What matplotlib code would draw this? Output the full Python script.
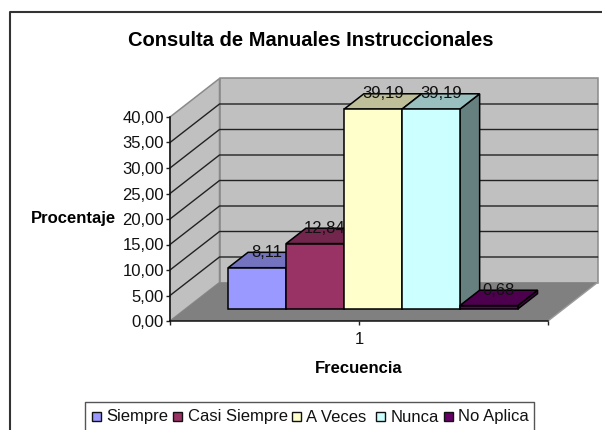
import matplotlib
matplotlib.use("Agg")
import matplotlib.pyplot as plt
from matplotlib.patches import Polygon, Rectangle
from matplotlib.lines import Line2D

plt.rcParams['font.family'] = ['Liberation Sans', 'DejaVu Sans']

title = "Consulta de Manuales Instruccionales"
series_names = ["Siempre", "Casi Siempre", "A Veces", "Nunca", "No Aplica"]
series_values = [8.11, 12.84, 39.19, 39.19, 0.68]
series_labels = ["8,11", "12,84", "39,19", "39,19", "0,68"]
colors = ["#9999FF", "#993366", "#FFFFCC", "#CCFFFF", "#660066"]
top_colors = ["#7373BF", "#73264D", "#BFBF99", "#99BFBF", "#4D004D"]
side_colors = ["#66668F", "#66223F", "#A8A888", "#668080", "#440044"]
y_ticks = [0, 5, 10, 15, 20, 25, 30, 35, 40]

W, H = 602, 430
fig = plt.figure(figsize=(W / 100, H / 100), dpi=100, facecolor="white")

# axes = front plane of the 3-D box
L, R, B, T = 170.0, 548.0, 321.0, 117.0
ax = fig.add_axes([L / W, 1 - B / H, (R - L) / W, (B - T) / H])
ax.set_xlim(0.5, 1.5)
ax.set_ylim(0, 40)
ax.patch.set_visible(False)
for s in ("top", "right"):
    ax.spines[s].set_visible(False)
for s in ("left", "bottom"):
    ax.spines[s].set_linewidth(1.1)
    ax.spines[s].set_color("#111111")
    ax.spines[s].set_zorder(6)

# shear for depth (fraction 0..1 of the box depth)
DX = 49.5 / (R - L)
DY = 38.5 / ((B - T) / 40)


def P(x, y, d):
    return (x + DX * d, y + DY * d)


def poly(pts, fc, ec="none", lw=0.0, z=1):
    ax.add_patch(Polygon(pts, closed=True, fc=fc, ec=ec, lw=lw, zorder=z,
                         clip_on=False, joinstyle="miter"))


x0, x1 = 0.5, 1.5
top = y_ticks[-1]
# walls and floor
poly([P(x0, 0, 1), P(x1, 0, 1), P(x1, top, 1), P(x0, top, 1)], "#C0C0C0", "#8A8A8A", 1.1, 1)
poly([P(x0, 0, 0), P(x0, 0, 1), P(x0, top, 1), P(x0, top, 0)], "#C0C0C0", "#8A8A8A", 1.1, 1)
poly([P(x0, 0, 0), P(x1, 0, 0), P(x1, 0, 1), P(x0, 0, 1)], "#808080", "none", 0, 2)
ax.plot(*zip(P(x1, 0, 0), P(x1, 0, 1)), color="#9A9A9A", lw=1.0, zorder=2, clip_on=False)

# gridlines
for v in y_ticks[1:-1]:
    ax.plot(*zip(P(x0, v, 0), P(x0, v, 1), P(x1, v, 1)), color="#222222", lw=1.0,
            zorder=3, clip_on=False, solid_joinstyle="miter")

# bars
d0, d1 = 0.31, 0.71
bar_left = 0.5 + (212.9 - L) / (R - L)
bar_w = 57.9 / (R - L)
for i, (v, lab) in enumerate(zip(series_values, series_labels)):
    a = bar_left + i * bar_w
    b = a + bar_w
    z = 10 + i
    ec, lw = "#000000", 1.1
    poly([P(b, 0, d0), P(b, 0, d1), P(b, v, d1), P(b, v, d0)], side_colors[i], ec, lw, z)
    poly([P(a, v, d0), P(b, v, d0), P(b, v, d1), P(a, v, d1)], top_colors[i], ec, lw, z)
    poly([P(a, 0, d0), P(b, 0, d0), P(b, v, d0), P(a, v, d0)], colors[i], ec, lw, z)
for i, (v, lab) in enumerate(zip(series_values, series_labels)):
    a = bar_left + i * bar_w
    lx = P(a + bar_w / 2, v, (d0 + d1) / 2)[0]
    ly = P(a + bar_w / 2, v, d1)[1]
    ax.text(lx, ly, lab, ha="center", va="center", fontsize=12, color="#111111",
            zorder=30, clip_on=False)

# axes ticks
ax.set_yticks(y_ticks)
ax.set_yticklabels([f"{v:.2f}".replace(".", ",") for v in y_ticks], fontsize=12)
ax.set_xticks([0.5, 1.0, 1.5])
ax.set_xticklabels(["", "1", ""], fontsize=12)
ax.tick_params(axis="both", length=3, width=1.0, color="#222222", pad=1.5, labelcolor="#111111")
ax.tick_params(axis="x", pad=5)

# axis titles and chart title
fig.text(359 / W, 1 - 373 / H, "Frecuencia", ha="center", va="baseline", fontsize=12, fontweight="bold")
fig.text(116 / W, 1 - 223 / H, "Procentaje", ha="right", va="baseline", fontsize=12, fontweight="bold")
fig.text(311 / W, 1 - 45.5 / H, title, ha="center", va="baseline", fontsize=14.5, fontweight="bold")

# outer frame (cropped by the image on the right and bottom)
fig.add_artist(Line2D([10 / W, 10 / W, 602 / W], [0, 1 - 12 / H, 1 - 12 / H], color="#333333", lw=1.5))

# legend frame and entries, cut by the lower edge of the picture
fig.add_artist(Line2D([85 / W, 85 / W, 534 / W, 534 / W], [0, 1 - 401.5 / H, 1 - 401.5 / H, 0], color="#555555", lw=1.0))
leg_swatch = [91.5, 173.5, 292, 376, 444]
for sx, name, c in zip(leg_swatch, series_names, colors):
    fig.add_artist(Rectangle((sx / W, 1 - 421 / H), 9 / W, 9 / H, fc=c, ec="#111111", lw=1.0,
                             transform=fig.transFigure))
    fig.text((sx + 14.5) / W, 1 - 421.5 / H, name, ha="left", va="baseline", fontsize=12, color="#111111")

fig.savefig("out.png", dpi=100)
